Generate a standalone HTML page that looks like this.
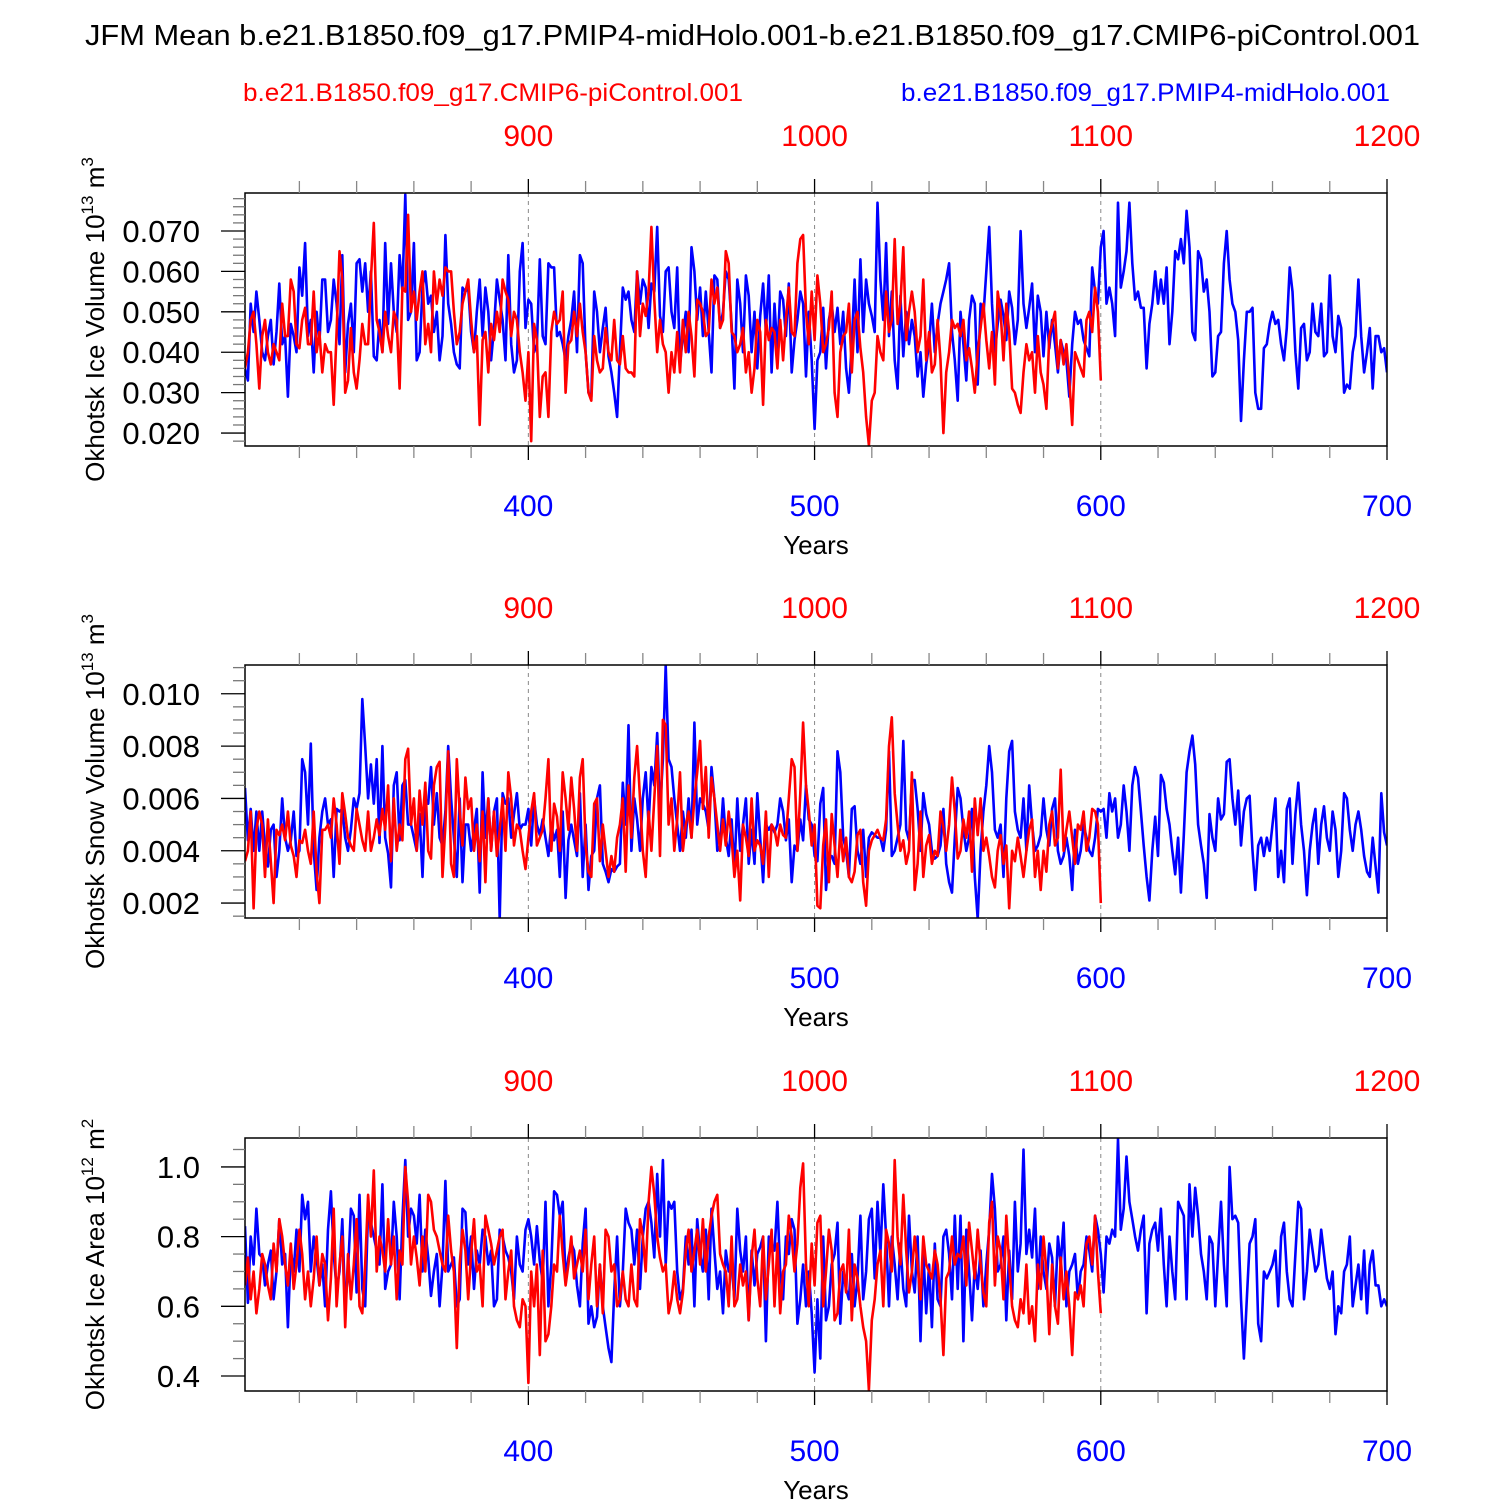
<!DOCTYPE html>
<html><head><meta charset="utf-8">
<style>
html,body{margin:0;padding:0;background:#fff;}
svg{display:block;font-family:"Liberation Sans",Arial,sans-serif;}
</style></head>
<body>
<svg id="chart" width="1500" height="1500" viewBox="0 0 1500 1500" xmlns="http://www.w3.org/2000/svg">
<text x="85" y="45" font-size="29" textLength="1335" lengthAdjust="spacingAndGlyphs">JFM Mean b.e21.B1850.f09_g17.PMIP4-midHolo.001-b.e21.B1850.f09_g17.CMIP6-piControl.001</text>
<text x="243" y="101" font-size="25" fill="#ff0000" textLength="500" lengthAdjust="spacingAndGlyphs">b.e21.B1850.f09_g17.CMIP6-piControl.001</text>
<text x="901" y="101" font-size="25" fill="#0000ff" textLength="489" lengthAdjust="spacingAndGlyphs">b.e21.B1850.f09_g17.PMIP4-midHolo.001</text>
</svg>
<script>
const blueYearStart = 301;
const redYearStart = 801;
const iceVolBlue = [36,33,52,45,55,48,40,38,44,48,37,45,57,42,44,29,47,44,40,61,54,67,44,48,35,50,42,58,58,45,48,58,52,42,64,35,47,52,40,62,63,55,62,50,60,39,38,48,40,67,47,62,50,45,64,55,79,48,50,67,38,40,56,60,52,54,45,50,38,44,69,52,47,40,37,36,56,55,56,45,40,50,58,44,56,50,38,46,58,53,48,38,64,42,35,38,60,67,46,53,52,40,42,63,44,42,62,61,61,44,45,42,38,44,48,55,40,64,62,40,30,29,55,50,40,46,51,39,35,30,24,40,56,53,55,48,45,60,52,58,56,46,57,55,71,49,45,60,61,50,46,61,37,44,50,40,66,60,48,56,44,55,45,35,59,58,46,50,60,58,47,31,58,52,40,59,54,40,50,36,49,57,45,59,35,52,40,55,53,44,57,35,43,48,55,52,34,50,38,21,38,40,51,36,48,52,45,51,42,50,36,30,42,58,40,63,45,58,52,49,45,77,58,48,67,44,55,38,31,54,39,50,42,48,44,34,40,29,37,42,52,40,47,52,55,58,62,45,38,28,50,42,33,48,54,52,32,52,49,60,71,52,40,47,53,49,43,55,51,42,48,70,52,46,51,57,40,54,50,39,50,41,48,42,35,43,40,38,29,42,50,47,48,43,41,39,61,55,52,66,70,52,56,52,44,77,56,60,65,77,62,53,55,51,51,36,47,52,60,52,58,52,61,42,50,65,63,68,62,75,66,45,43,65,63,55,58,50,34,35,44,45,62,70,58,52,50,43,23,38,50,50,51,30,26,26,41,42,47,50,47,48,42,38,46,61,55,40,31,46,47,38,40,52,45,44,52,39,40,59,44,40,49,46,30,32,31,40,44,58,44,35,40,46,31,44,44,40,41,35];
const iceVolRed = [36,40,48,50,42,31,44,48,40,37,42,40,38,52,44,44,58,55,42,41,48,51,42,42,55,40,45,35,42,40,40,27,45,65,58,30,33,46,35,31,38,47,42,42,58,72,48,45,40,50,44,40,50,48,31,56,55,74,50,55,48,55,60,42,47,40,60,52,58,54,61,60,60,50,42,45,52,55,58,48,40,44,22,43,45,35,47,43,50,45,58,55,53,44,50,48,40,35,28,40,18,47,43,24,34,35,24,45,50,47,48,55,30,42,43,50,44,52,45,40,30,28,44,38,35,36,46,40,38,48,38,37,44,36,35,35,34,60,44,52,49,55,71,53,40,48,42,40,30,40,35,45,35,48,40,50,44,34,53,52,50,44,45,58,52,56,46,48,65,62,45,44,40,42,46,35,40,30,36,48,45,27,48,43,46,45,36,48,38,48,56,45,44,62,68,69,50,42,55,43,59,52,40,42,46,55,30,24,40,44,45,52,35,48,50,41,35,24,17,28,30,44,40,38,55,45,48,68,47,52,66,43,50,55,50,40,44,58,38,45,35,37,48,38,20,35,40,48,46,47,44,48,38,41,36,30,40,46,52,43,36,45,32,55,50,38,52,45,31,30,27,25,35,42,38,40,30,44,35,32,26,44,47,50,36,43,37,42,33,22,40,38,36,34,48,50,45,56,50,33];
const snowBlue = [64,44,56,40,55,40,55,42,34,48,50,30,40,60,45,40,44,55,38,40,75,70,50,81,40,25,45,55,60,50,52,30,56,55,56,45,40,48,60,56,62,98,80,60,73,58,75,43,80,45,39,26,65,70,44,65,67,50,50,45,40,54,30,60,58,72,50,62,45,42,55,80,60,45,30,60,28,50,50,40,48,56,24,70,45,60,40,55,60,14,62,58,60,45,54,62,48,50,50,56,42,60,50,46,52,45,38,50,44,48,30,55,22,44,50,44,38,62,30,50,25,38,40,60,65,35,32,28,33,32,34,35,66,50,88,40,60,52,40,60,70,50,72,65,85,55,75,111,75,72,60,50,40,55,45,60,45,89,50,60,58,55,48,72,60,40,42,60,45,38,52,32,60,40,50,60,35,48,35,62,45,28,50,48,50,47,50,60,55,44,52,28,42,40,52,44,65,52,50,38,36,58,64,25,38,38,35,78,70,45,40,30,56,57,40,35,48,30,45,47,46,45,45,40,48,78,38,40,45,50,82,48,44,67,67,56,40,62,54,50,40,37,38,42,56,35,28,24,45,64,60,48,40,45,56,30,14,40,55,65,80,70,48,45,50,30,60,78,82,55,48,45,60,40,65,50,40,42,46,60,48,42,56,60,40,35,38,45,38,25,48,35,40,50,45,40,38,45,56,55,56,45,62,55,60,45,50,65,55,40,65,72,68,55,42,30,21,40,53,38,69,66,56,50,40,31,45,24,46,70,78,84,73,50,42,35,22,54,45,40,60,52,54,74,75,60,50,63,42,55,60,61,40,25,42,45,38,45,40,50,60,30,40,28,56,60,35,54,66,50,40,23,40,50,56,35,50,57,45,40,55,48,30,40,62,60,48,40,50,55,48,38,32,30,45,34,24,62,47,42];
const snowRed = [36,40,55,18,48,55,50,30,52,36,20,48,46,50,44,55,42,38,30,44,43,48,40,35,55,32,20,48,48,50,45,60,50,35,62,54,45,42,40,56,50,44,40,55,40,45,52,46,56,48,65,36,60,40,50,44,75,79,50,60,40,63,50,66,40,37,65,72,74,30,50,78,35,30,75,55,42,68,56,60,40,50,36,55,28,60,40,55,38,48,60,40,70,60,42,50,48,40,33,45,55,62,42,45,48,60,75,40,58,53,40,70,60,48,68,56,40,68,75,42,32,30,58,60,36,50,40,30,38,32,45,50,60,32,65,45,68,80,60,40,30,55,40,60,80,38,90,88,50,60,40,52,70,40,50,55,45,60,70,82,56,72,45,68,60,50,40,52,42,55,45,30,40,21,50,45,38,60,40,44,42,35,55,30,50,48,42,50,46,45,60,75,72,40,62,89,65,55,42,50,19,18,42,52,28,54,42,30,48,36,45,30,28,32,46,48,28,19,40,44,46,48,45,44,52,80,91,62,50,40,44,35,40,70,25,35,55,30,42,46,35,40,38,55,49,40,50,68,55,37,40,52,45,55,32,60,46,60,40,45,38,30,26,40,46,35,42,18,40,36,45,38,30,40,48,52,30,40,25,40,32,50,55,42,45,71,40,48,55,45,35,50,48,55,40,45,56,55,50,20];
const areaBlue = [83,61,80,72,88,75,74,66,72,76,62,70,85,72,75,54,76,70,82,70,92,85,90,70,80,74,66,72,60,82,93,75,65,70,85,60,70,88,86,64,92,65,60,88,84,80,76,72,95,65,70,72,90,80,62,85,102,80,88,86,78,92,70,82,74,63,70,75,60,72,96,70,72,74,60,62,88,87,72,80,65,76,72,82,80,72,76,60,62,82,80,76,74,70,62,80,72,70,82,85,80,72,83,73,67,90,60,72,93,92,86,90,68,74,78,76,66,60,78,88,55,60,54,57,72,60,54,48,44,64,80,60,70,88,84,82,72,82,65,80,88,90,84,74,98,80,102,72,90,88,90,70,62,65,80,72,82,60,85,75,70,82,62,88,76,65,70,58,76,70,72,62,88,76,70,80,56,76,66,75,77,80,50,80,78,76,90,70,62,80,75,85,82,55,62,72,60,70,58,41,62,45,80,56,60,72,75,84,55,70,65,62,75,60,68,86,62,70,85,88,68,90,75,95,80,60,80,72,62,78,65,60,86,70,64,80,50,76,58,72,54,78,62,60,80,82,75,62,86,65,86,50,82,70,56,72,65,76,60,72,82,98,88,70,72,80,56,76,62,90,70,78,105,75,82,74,88,65,80,70,65,78,74,60,80,72,84,60,70,72,75,62,70,72,80,76,70,86,82,75,64,80,78,82,80,108,82,88,103,90,85,80,76,82,86,58,78,82,84,76,88,72,60,80,70,62,90,88,86,62,95,80,94,86,75,70,62,80,78,60,75,90,72,60,100,85,86,84,62,45,62,78,80,85,55,50,70,68,70,72,76,60,80,84,70,62,60,75,90,88,62,70,82,76,70,72,82,75,68,65,70,52,60,58,70,72,80,60,66,72,62,76,58,72,76,66,66,60,62,60];
const areaRed = [66,74,62,70,58,65,75,72,66,62,78,70,85,80,72,66,78,65,72,82,75,62,70,60,68,80,66,75,72,56,68,88,60,72,80,54,75,62,72,85,60,58,72,92,80,99,70,80,76,70,85,72,80,62,76,72,100,90,72,80,74,66,80,70,92,90,82,80,76,72,70,86,76,70,48,72,82,76,62,75,85,70,72,60,86,82,78,72,76,80,82,62,70,76,60,56,54,62,60,38,70,60,72,46,76,50,52,60,72,70,86,75,66,72,80,68,72,76,70,82,62,72,80,60,72,58,82,80,70,72,60,62,70,62,60,72,62,60,85,80,70,90,100,92,80,74,70,72,58,62,70,62,58,64,76,82,70,76,82,72,85,70,80,86,90,92,75,72,70,60,80,60,62,72,66,70,56,74,82,68,60,80,62,72,82,60,78,58,70,72,86,80,70,78,94,101,72,60,78,66,84,86,60,70,82,76,56,58,70,72,64,82,56,72,68,60,54,50,36,56,62,72,76,60,82,78,70,102,80,72,92,76,64,70,80,72,62,80,72,70,68,76,72,62,46,68,70,80,72,75,74,80,66,84,76,68,82,72,64,60,84,90,66,80,76,62,86,72,60,56,54,62,58,72,55,60,50,72,65,80,70,52,72,60,55,74,62,70,60,46,64,62,66,60,78,80,72,86,70,58];
const bottomTickLabels = ["400","500","600","700"];
const topTickLabels = ["900","1000","1100","1200"];
const volTickLabels = ["0.020","0.030","0.040","0.050","0.060","0.070"];
const snowTickLabels = ["0.002","0.004","0.006","0.008","0.010"];
const areaTickLabels = ["0.4","0.6","0.8","1.0"];

const NS = "http://www.w3.org/2000/svg";
const svg = document.getElementById('chart');
const X0 = 245, X1 = 1387, YMIN = 301, YMAX = 700;
function xs(year){ return X0 + (year - YMIN) / (YMAX - YMIN) * (X1 - X0); }
function mk(tag, attrs, parent){ const e = document.createElementNS(NS, tag); for (const k in attrs) e.setAttribute(k, attrs[k]); (parent||svg).appendChild(e); return e; }

const panels = [
  {key:'ice-volume', top:193, lo:0.0168, hi:0.0794, scale:0.001, blue:iceVolBlue, red:iceVolRed, labels:volTickLabels, major:0.01, minor:0.002, first:0.02, title:['Okhotsk Ice Volume 10','13',' m','3']},
  {key:'snow-volume', top:665, lo:0.00143, hi:0.0111, scale:0.0001, blue:snowBlue, red:snowRed, labels:snowTickLabels, major:0.002, minor:0.0005, first:0.002, title:['Okhotsk Snow Volume 10','13',' m','3']},
  {key:'ice-area', top:1138, lo:0.357, hi:1.083, scale:0.01, blue:areaBlue, red:areaRed, labels:areaTickLabels, major:0.2, minor:0.05, first:0.4, title:['Okhotsk Ice Area 10','12',' m','2']}
];
const H = 253;

panels.forEach(p => {
  const g = mk('g', {});
  
  
  const B = p.top + H;
  const ys = v => B - (v - p.lo) / (p.hi - p.lo) * H;
  [400,500,600].forEach(yr => {
    const l = mk('line', {x1:xs(yr), x2:xs(yr), y1:p.top, y2:B, stroke:'#888', 'stroke-width':1, 'stroke-dasharray':'4,4'}, g);
    
    
  });
  const cp = mk('clipPath', {id:'clip-' + p.key}, g);
  mk('rect', {x:X0, y:p.top, width:X1 - X0, height:H}, cp);
  const sg = mk('g', {'clip-path':'url(#clip-' + p.key + ')'}, g);
  
  
  [[p.blue, blueYearStart, '#0000ff', p.key + '-blue-line'], [p.red, redYearStart, '#ff0000', p.key + '-red-line']].forEach(s => {
    const pts = s[0].map((v,i) => xs(s[1] - (s[1] === redYearStart ? 500 : 0) + i).toFixed(1) + ',' + ys(v * p.scale).toFixed(1)).join(' ');
    const pl = mk('polyline', {points:pts, fill:'none', stroke:s[2], 'stroke-width':2.6, 'stroke-linejoin':'round'}, sg);
    
    
  });
  const fr = mk('rect', {x:X0, y:p.top, width:X1 - X0, height:H, fill:'none', stroke:'#000', 'stroke-width':1.5}, g);
  
  
  for (let v = Math.ceil(p.lo / p.minor) * p.minor; v <= p.hi + 1e-9; v += p.minor) {
    const isMajor = Math.abs(v / p.major - Math.round(v / p.major)) < 1e-6;
    mk('line', {x1:X0 - (isMajor ? 24 : 12), x2:X0, y1:ys(v), y2:ys(v), stroke:isMajor ? '#000' : '#777', 'stroke-width':1.3}, g);
  }
  p.labels.forEach((lab, i) => {
    const t = mk('text', {x:200, y:ys(p.first + i * p.major) + 11, 'text-anchor':'end', 'font-size':31}, g);
    t.textContent = lab;
    
    
  });
  for (let yr = 320; yr <= 700; yr += 20) {
    const isMajor = yr % 100 === 0;
    const len = isMajor ? 14 : 12;
    mk('line', {x1:xs(yr), x2:xs(yr), y1:p.top, y2:p.top - len, stroke:isMajor ? '#000' : '#888', 'stroke-width':1.3}, g);
    mk('line', {x1:xs(yr), x2:xs(yr), y1:B, y2:B + len, stroke:isMajor ? '#000' : '#888', 'stroke-width':1.3}, g);
  }
  bottomTickLabels.forEach((lab, i) => {
    const t = mk('text', {x:xs(400 + i * 100), y:B + 70, 'text-anchor':'middle', 'font-size':30, fill:'#0000ff'}, g);
    t.textContent = lab;
    
    
  });
  topTickLabels.forEach((lab, i) => {
    const t = mk('text', {x:xs(400 + i * 100), y:p.top - 47, 'text-anchor':'middle', 'font-size':30, fill:'#ff0000'}, g);
    t.textContent = lab;
    
    
  });
  const xt = mk('text', {x:816, y:B + 108, 'text-anchor':'middle', 'font-size':26}, g);
  xt.textContent = 'Years';
  
  
  const cy = p.top + H / 2;
  const yt = mk('text', {x:0, y:0, 'text-anchor':'middle', 'font-size':26, transform:'translate(104,' + cy + ') rotate(-90)'}, g);
  
  
  const parts = p.title;
  const t1 = mk('tspan', {}, yt); t1.textContent = parts[0];
  const t2 = mk('tspan', {dy:-11, 'font-size':17}, yt); t2.textContent = parts[1];
  const t3 = mk('tspan', {dy:11}, yt); t3.textContent = parts[2];
  const t4 = mk('tspan', {dy:-11, 'font-size':17}, yt); t4.textContent = parts[3];
});
</script>
</body></html>
